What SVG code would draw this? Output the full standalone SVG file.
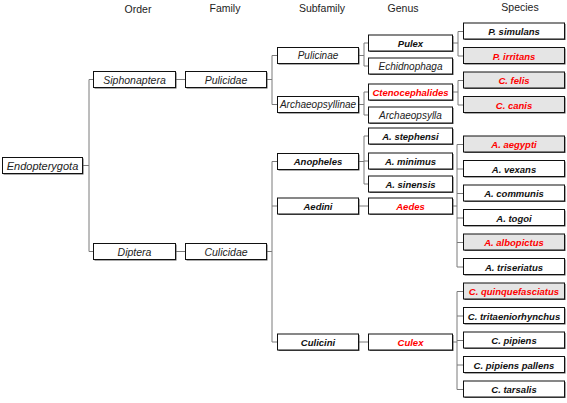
<svg xmlns="http://www.w3.org/2000/svg" width="567" height="403" viewBox="0 0 567 403">
<style>
text{font-family:"Liberation Sans",Arial,sans-serif;text-anchor:middle;dominant-baseline:central}
.h{font-size:10.5px;fill:#222}
.sh{fill:#555;stroke:none}
.b{fill:#fff;stroke:#111;stroke-width:1}
.g{fill:#e5e5e5;stroke:#111;stroke-width:1}
.i{font-style:italic;font-size:10px;fill:#222}
.bi{font-style:italic;font-weight:bold;font-size:9.5px;fill:#111}
.r{fill:#f00}
.c{fill:none;stroke:#7a7a7a;stroke-width:1}
</style>
<g id="headers">
<text class="h" x="138" y="9">Order</text>
<text class="h" x="225" y="8">Family</text>
<text class="h" x="322" y="8">Subfamily</text>
<text class="h" x="403" y="8">Genus</text>
<text class="h" x="520" y="7">Species</text>
</g>
<g id="connectors" class="c">
<path d="M83 165.5H89M89 79.5V251.5M89 79.5H93M89 251.5H93"/>
<path d="M176 79.5H185M176 251.5H185"/>
<path d="M267 79.5H272M272 55.5V104.5M272 55.5H277M272 104.5H277"/>
<path d="M267 251.5H272M272 161.5V342M272 161.5H277M272 206H277M272 342H277"/>
<path d="M359 55.5H364M364 43V66M364 43H368M364 66H368"/>
<path d="M359 104.5H364M364 92V115M364 92H368M364 115H368"/>
<path d="M359 161.5H364M364 136V184M364 136H368M364 161H368M364 184H368"/>
<path d="M359 206H368M359 342H368"/>
<path d="M453 43H458M458 31.5V56M458 31.5H463M458 56H463"/>
<path d="M453 92H458M458 80.5V105M458 80.5H463M458 105H463"/>
<path d="M453 206H457M457 144.5V267M457 144.5H463M457 169H463M457 193.5H463M457 218H463M457 242.5H463M457 267H463"/>
<path d="M453 342H457M457 291.5V389.5M457 291.5H463M457 316H463M457 340.5H463M457 365H463M457 389.5H463"/>
</g>
<g id="n-endopterygota"><rect class="sh" x="3.5" y="158.5" width="80" height="16"/><rect class="b" x="2.5" y="157.5" width="80" height="16"/><text class="i" style="font-size:11px" x="42.5" y="165.5">Endopterygota</text></g>
<g id="n-siphonaptera"><rect class="sh" x="94.5" y="72.5" width="82" height="16"/><rect class="b" x="93.5" y="71.5" width="82" height="16"/><text class="i" style="font-size:10.5px" x="134.5" y="79.5">Siphonaptera</text></g>
<g id="n-pulicidae"><rect class="sh" x="186.5" y="72.5" width="81" height="16"/><rect class="b" x="185.5" y="71.5" width="81" height="16"/><text class="i" style="font-size:10.5px" x="226" y="79.5">Pulicidae</text></g>
<g id="n-diptera"><rect class="sh" x="94.5" y="244.5" width="82" height="16"/><rect class="b" x="93.5" y="243.5" width="82" height="16"/><text class="i" style="font-size:10.5px" x="134.5" y="251.5">Diptera</text></g>
<g id="n-culicidae"><rect class="sh" x="186.5" y="244.5" width="81" height="16"/><rect class="b" x="185.5" y="243.5" width="81" height="16"/><text class="i" style="font-size:10.5px" x="226" y="251.5">Culicidae</text></g>
<g id="n-pulicinae"><rect class="sh" x="278.5" y="48.5" width="81" height="16"/><rect class="b" x="277.5" y="47.5" width="81" height="16"/><text class="i" x="318" y="55.5">Pulicinae</text></g>
<g id="n-archaeopsyllinae"><rect class="sh" x="278.5" y="97.5" width="81" height="16"/><rect class="b" x="277.5" y="96.5" width="81" height="16"/><text class="i" x="318" y="104.5">Archaeopsyllinae</text></g>
<g id="n-anopheles"><rect class="sh" x="278.5" y="154.5" width="81" height="16"/><rect class="b" x="277.5" y="153.5" width="81" height="16"/><text class="bi" x="318" y="161.5">Anopheles</text></g>
<g id="n-aedini"><rect class="sh" x="278.5" y="199" width="81" height="16"/><rect class="b" x="277.5" y="198" width="81" height="16"/><text class="bi" x="318" y="206">Aedini</text></g>
<g id="n-culicini"><rect class="sh" x="278.5" y="335" width="81" height="16"/><rect class="b" x="277.5" y="334" width="81" height="16"/><text class="bi" x="318" y="342">Culicini</text></g>
<g id="n-pulex"><rect class="sh" x="369.5" y="36" width="84" height="16"/><rect class="b" x="368.5" y="35" width="84" height="16"/><text class="bi" x="410.5" y="43">Pulex</text></g>
<g id="n-echidnophaga"><rect class="sh" x="369.5" y="59" width="84" height="16"/><rect class="b" x="368.5" y="58" width="84" height="16"/><text class="i" x="410.5" y="66">Echidnophaga</text></g>
<g id="n-ctenocephalides"><rect class="sh" x="369.5" y="85" width="84" height="16"/><rect class="b" x="368.5" y="84" width="84" height="16"/><text class="bi r" x="410.5" y="92">Ctenocephalides</text></g>
<g id="n-archaeopsylla"><rect class="sh" x="369.5" y="108" width="84" height="16"/><rect class="b" x="368.5" y="107" width="84" height="16"/><text class="i" x="410.5" y="115">Archaeopsylla</text></g>
<g id="n-a-stephensi"><rect class="sh" x="369.5" y="129" width="84" height="16"/><rect class="b" x="368.5" y="128" width="84" height="16"/><text class="bi" x="410.5" y="136">A. stephensi</text></g>
<g id="n-a-minimus"><rect class="sh" x="369.5" y="154" width="84" height="16"/><rect class="b" x="368.5" y="153" width="84" height="16"/><text class="bi" x="410.5" y="161">A. minimus</text></g>
<g id="n-a-sinensis"><rect class="sh" x="369.5" y="177" width="84" height="16"/><rect class="b" x="368.5" y="176" width="84" height="16"/><text class="bi" x="410.5" y="184">A. sinensis</text></g>
<g id="n-aedes"><rect class="sh" x="369.5" y="199" width="84" height="16"/><rect class="b" x="368.5" y="198" width="84" height="16"/><text class="bi r" x="410.5" y="206">Aedes</text></g>
<g id="n-culex"><rect class="sh" x="369.5" y="335" width="84" height="16"/><rect class="b" x="368.5" y="334" width="84" height="16"/><text class="bi r" x="410.5" y="342">Culex</text></g>
<g id="n-p-simulans"><rect class="sh" x="464.5" y="24" width="101" height="16"/><rect class="b" x="463.5" y="23" width="101" height="16"/><text class="bi" x="514" y="31.5">P. simulans</text></g>
<g id="n-p-irritans"><rect class="sh" x="464.5" y="48.5" width="101" height="16"/><rect class="g" x="463.5" y="47.5" width="101" height="16"/><text class="bi r" x="514" y="56">P. irritans</text></g>
<g id="n-c-felis"><rect class="sh" x="464.5" y="73" width="101" height="16"/><rect class="g" x="463.5" y="72" width="101" height="16"/><text class="bi r" x="514" y="80.5">C. felis</text></g>
<g id="n-c-canis"><rect class="sh" x="464.5" y="97.5" width="101" height="16"/><rect class="g" x="463.5" y="96.5" width="101" height="16"/><text class="bi r" x="514" y="105">C. canis</text></g>
<g id="n-a-aegypti"><rect class="sh" x="464.5" y="137" width="101" height="16"/><rect class="g" x="463.5" y="136" width="101" height="16"/><text class="bi r" x="514" y="144.5">A. aegypti</text></g>
<g id="n-a-vexans"><rect class="sh" x="464.5" y="161.5" width="101" height="16"/><rect class="b" x="463.5" y="160.5" width="101" height="16"/><text class="bi" x="514" y="169">A. vexans</text></g>
<g id="n-a-communis"><rect class="sh" x="464.5" y="186" width="101" height="16"/><rect class="b" x="463.5" y="185" width="101" height="16"/><text class="bi" x="514" y="193.5">A. communis</text></g>
<g id="n-a-togoi"><rect class="sh" x="464.5" y="210.5" width="101" height="16"/><rect class="b" x="463.5" y="209.5" width="101" height="16"/><text class="bi" x="514" y="218">A. togoi</text></g>
<g id="n-a-albopictus"><rect class="sh" x="464.5" y="235" width="101" height="16"/><rect class="g" x="463.5" y="234" width="101" height="16"/><text class="bi r" x="514" y="242.5">A. albopictus</text></g>
<g id="n-a-triseriatus"><rect class="sh" x="464.5" y="259.5" width="101" height="16"/><rect class="b" x="463.5" y="258.5" width="101" height="16"/><text class="bi" x="514" y="267">A. triseriatus</text></g>
<g id="n-c-quinquefasciatus"><rect class="sh" x="464.5" y="284" width="101" height="16"/><rect class="g" x="463.5" y="283" width="101" height="16"/><text class="bi r" x="514" y="291.5">C. quinquefasciatus</text></g>
<g id="n-c-tritaeniorhynchus"><rect class="sh" x="464.5" y="308.5" width="101" height="16"/><rect class="b" x="463.5" y="307.5" width="101" height="16"/><text class="bi" x="514" y="316">C. tritaeniorhynchus</text></g>
<g id="n-c-pipiens"><rect class="sh" x="464.5" y="333" width="101" height="16"/><rect class="b" x="463.5" y="332" width="101" height="16"/><text class="bi" x="514" y="340.5">C. pipiens</text></g>
<g id="n-c-pipiens-pallens"><rect class="sh" x="464.5" y="357.5" width="101" height="16"/><rect class="b" x="463.5" y="356.5" width="101" height="16"/><text class="bi" x="514" y="365">C. pipiens pallens</text></g>
<g id="n-c-tarsalis"><rect class="sh" x="464.5" y="382" width="101" height="16"/><rect class="b" x="463.5" y="381" width="101" height="16"/><text class="bi" x="514" y="389.5">C. tarsalis</text></g>
</svg>
